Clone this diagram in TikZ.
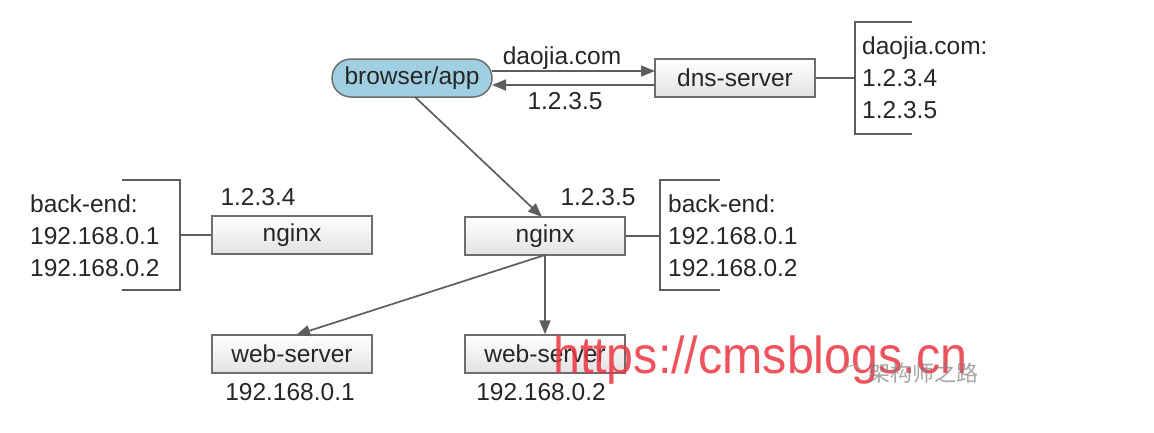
\documentclass[tikz,border=0pt]{standalone}
\usepackage{fontspec}
\setmainfont{Liberation Sans}
\newfontfamily\cjk{Noto Sans CJK SC}
\usetikzlibrary{arrows.meta}
\definecolor{boxline}{HTML}{6E6E6E}
\definecolor{lineclr}{HTML}{5E5E5E}
\definecolor{boxtop}{HTML}{FFFFFF}
\definecolor{boxbot}{HTML}{E2E2E2}
\definecolor{ellfill}{HTML}{9FCFE0}
\definecolor{txt}{HTML}{262626}
\definecolor{wm}{HTML}{EC3440}
\tikzset{
  box/.style={draw=boxline, line width=1.5pt, top color=boxtop, bottom color=boxbot,
    minimum width=160pt, minimum height=38pt, inner sep=0pt, text=txt,
    font=\fontsize{24.5}{28}\selectfont},
  pill/.style={draw=boxline, line width=1.5pt, fill=ellfill, rounded corners=19pt,
    minimum width=160pt, minimum height=38pt, inner sep=0pt, text=txt,
    font=\fontsize{24.5}{28}\selectfont},
  lbl/.style={text=txt, inner sep=0pt, font=\fontsize{24.5}{28}\selectfont},
  lst/.style={text=txt, inner sep=0pt, align=left, anchor=west,
    font=\fontsize{24.5}{32}\selectfont},
  conn/.style={draw=lineclr, line width=1.7pt},
  arr/.style={conn, -{Triangle[length=14pt,width=11pt]}},
}
\begin{document}
\begin{tikzpicture}[x=1pt,y=-1pt]
\useasboundingbox[fill=white] (0,0) rectangle (1154,432);
% top row
\node[pill] (browser) at (412,78) {browser/app};
\node[box] (dns) at (735,78) {dns-server};
\coordinate (bo1) at (492,71);
\coordinate (di1) at (655,71);
\coordinate (bo2) at (492,85);
\coordinate (di2) at (655,85);
\draw[arr] (bo1) -- (di1);
\draw[arr] (di2) -- (bo2);
\node[lbl] (q) at (562,58) {daojia.com};
\node[lbl] (r) at (565,101) {1.2.3.5};
% dns bracket
\coordinate (dbt) at (855,22);
\coordinate (dbb) at (855,134);
\coordinate (dbm) at (855,78);
\draw[conn] (912,22) -- (dbt) -- (dbb) -- (912,134);
\draw[conn] (dns.east) -- (dbm);
\node[lst] (dl) at (862,78) {daojia.com:\\1.2.3.4\\1.2.3.5};
% nginx left
\node[box] (ng1) at (292,235) {nginx};
\node[lbl] (ip1) at (258,197) {1.2.3.4};
\coordinate (lbm) at (180,235);
\draw[conn] (122,180) -- (180,180) -- (180,290) -- (122,290);
\draw[conn] (ng1.west) -- (lbm);
\node[lst] (ll) at (30,236) {back-end:\\192.168.0.1\\192.168.0.2};
% nginx center
\node[box] (ng2) at (545,236) {nginx};
\node[lbl] (ip2) at (598,197) {1.2.3.5};
\coordinate (rbm) at (660,236);
\draw[conn] (720,180) -- (660,180) -- (660,290) -- (720,290);
\draw[conn] (ng2.east) -- (rbm);
\node[lst] (rl) at (668,236) {back-end:\\192.168.0.1\\192.168.0.2};
\coordinate (bs) at (415,97);
\coordinate (nt) at (542,217);
\draw[arr] (bs) -- (nt);
% web servers
\node[box] (w1) at (292,354) {web-server};
\node[box] (w2) at (545,354) {web-server};
\node[lbl] (w1ip) at (290,392) {192.168.0.1};
\node[lbl] (w2ip) at (541,392) {192.168.0.2};
\coordinate (nb) at (545,255);
\coordinate (w1t) at (296,335);
\draw[arr] (nb) -- (w2.north);
\draw[arr] (nb) -- (w1t);
% watermark
\node[text=wm, opacity=0.85, inner sep=0pt, anchor=base west, font=\fontsize{52}{52}\selectfont, xscale=0.93] (wmk) at (553,373) {https://cmsblogs.cn};
\node[text=gray, opacity=0.7, inner sep=0pt, anchor=base west, font=\cjk\fontsize{22}{22}\selectfont] (wmc) at (868,381) {架构师之路};
\draw[gray!70, line width=1pt] (843,372) arc (200:330:10);
\end{tikzpicture}
\end{document}
